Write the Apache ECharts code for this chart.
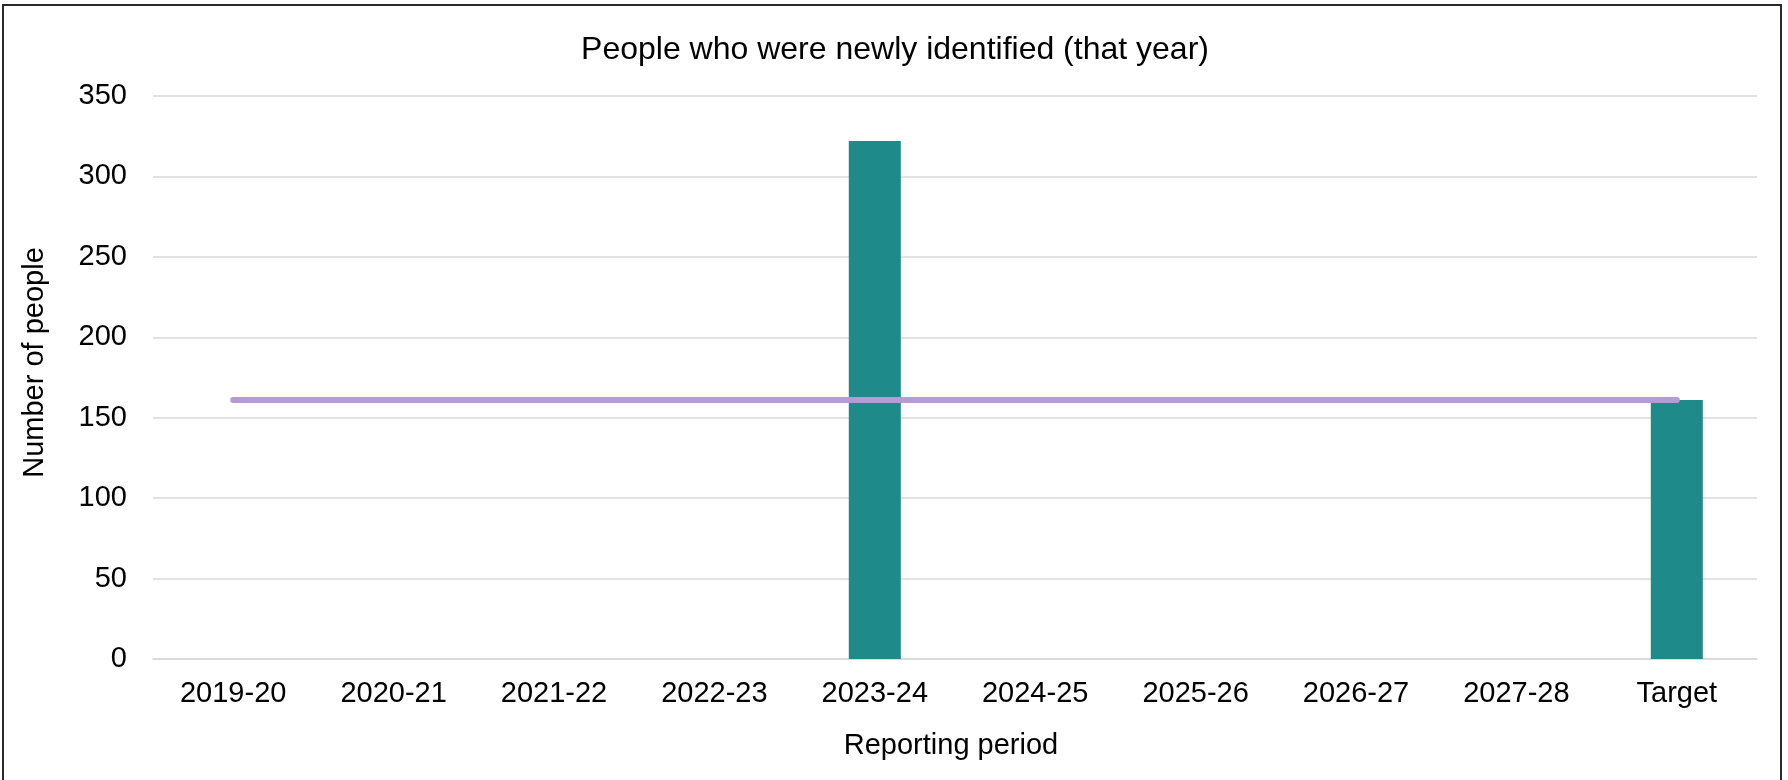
<!DOCTYPE html>
<html>
<head>
<meta charset="utf-8">
<script src="https://cdn.jsdelivr.net/npm/echarts@6/dist/echarts.min.js"></script>
<style>
html,body{margin:0;padding:0;background:#fff;}
#chart{width:1788px;height:780px;}
</style>
</head>
<body>
<div id="chart"></div>
<script>
const categories = ['2019-20','2020-21','2021-22','2022-23','2023-24','2024-25','2025-26','2026-27','2027-28','Target'];
const newlyIdentified = [null, null, null, null, 322, null, null, null, null, 161];
const targetLine = [161, 161, 161, 161, 161, 161, 161, 161, 161, 161];
const yTicks = { min: 0, max: 350, interval: 50 };

const chart = echarts.init(document.getElementById('chart'), null, { renderer: 'canvas' });
const font = 'Liberation Sans, Arial, sans-serif';
chart.setOption({
  animation: false,
  backgroundColor: '#ffffff',
  textStyle: { fontFamily: font, color: '#000' },
  title: {
    text: 'People who were newly identified (that year)',
    left: 890, top: 29, textAlign: 'center',
    textStyle: { fontFamily: font, fontSize: 32, fontWeight: 'normal', color: '#000' }
  },
  grid: { left: 153, right: 31, top: 96, bottom: 121, containLabel: false },
  xAxis: {
    type: 'category',
    data: categories,
    name: 'Reporting period',
    nameLocation: 'middle',
    nameGap: 72,
    nameTextStyle: { fontFamily: font, fontSize: 29, color: '#000', padding: [0, 8, 0, 0] },
    axisLine: { lineStyle: { color: '#d9d9d9', width: 1.5 } },
    axisTick: { show: false },
    axisLabel: { fontFamily: font, fontSize: 29, color: '#000', margin: 20, interval: 0 }
  },
  yAxis: {
    type: 'value',
    min: yTicks.min, max: yTicks.max, interval: yTicks.interval,
    name: 'Number of people',
    nameLocation: 'middle',
    nameGap: 104,
    nameRotate: 90,
    nameTextStyle: { fontFamily: font, fontSize: 29, color: '#000', padding: [0, 0, 0, 30] },
    axisLine: { show: false },
    axisTick: { show: false },
    axisLabel: { fontFamily: font, fontSize: 29, color: '#000', margin: 26 },
    splitLine: { lineStyle: { color: '#d9d9d9', width: 1.5 } }
  },
  series: [
    {
      type: 'bar',
      data: newlyIdentified,
      barWidth: 52,
      itemStyle: { color: '#1e8a8a' }
    },
    {
      type: 'line',
      data: targetLine,
      showSymbol: false,
      symbol: 'none',
      lineStyle: { color: '#b59cd6', width: 6, cap: 'round' },
      z: 3
    }
  ],
  graphic: [
    {
      type: 'rect',
      shape: { x: 3, y: 5, width: 1778, height: 800 },
      style: { fill: 'none', stroke: '#2a2a2a', lineWidth: 2 },
      silent: true, z: 100
    }
  ]
});
</script>
</body>
</html>
